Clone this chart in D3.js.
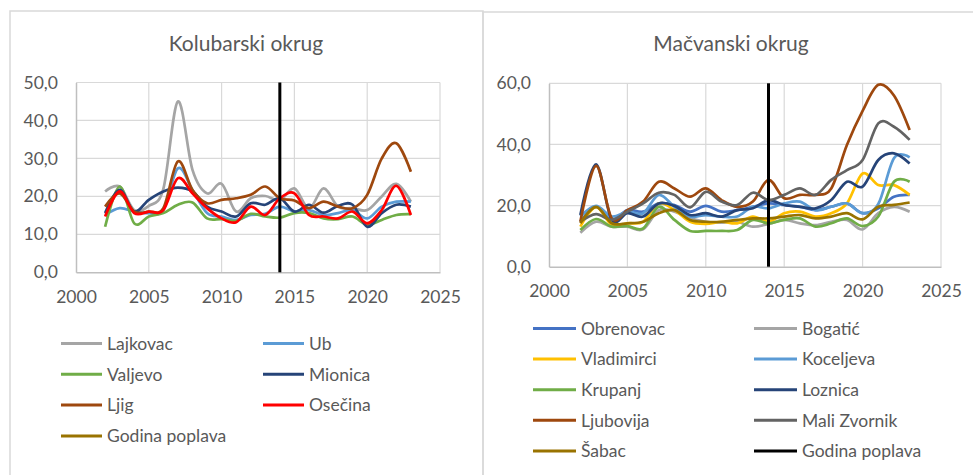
<!DOCTYPE html>
<html>
<head>
<meta charset="utf-8">
<script src="https://cdn.jsdelivr.net/npm/d3@7"></script>
<style>
  body { margin: 0; background: #fff; }
  svg { display: block; font-family: Lato, "Open Sans", sans-serif; }
</style>
</head>
<body>
<svg id="chart" width="973" height="475"></svg>
<script>
/* Data */
const years = [2002, 2003, 2004, 2005, 2006, 2007, 2008, 2009, 2010, 2011, 2012,
  2013, 2014, 2015, 2016, 2017, 2018, 2019, 2020, 2021, 2022, 2023];
const floodYear = 2014;
const xTicks = [2000, 2005, 2010, 2015, 2020, 2025];

// Kolubarski okrug
const kolNames = ['Lajkovac', 'Ub', 'Valjevo', 'Mionica', 'Ljig', 'Osečina'];
const lajkovac = [21.3, 22.6, 16.4, 17.5, 22.0, 45.0, 27.0, 20.8, 23.3, 16.0, 19.5, 20.1, 19.0, 22.1, 16.8, 22.1, 17.3, 16.9, 16.4, 20.0, 23.3, 18.6];
const ub = [15.1, 16.9, 16.0, 15.6, 16.4, 27.4, 21.7, 15.6, 14.7, 13.8, 15.1, 15.4, 17.3, 16.0, 16.4, 15.1, 15.6, 16.4, 14.2, 17.3, 18.6, 18.6];
const valjevo = [12.0, 22.6, 12.9, 14.7, 15.6, 17.8, 18.4, 14.2, 14.0, 13.5, 15.4, 14.7, 14.4, 15.6, 15.6, 14.2, 14.0, 14.7, 12.5, 13.8, 15.1, 15.3];
const mionica = [15.6, 21.7, 16.0, 19.1, 21.3, 22.3, 21.3, 17.3, 16.0, 14.7, 18.2, 17.8, 19.5, 16.0, 17.8, 15.7, 17.5, 17.8, 12.0, 15.6, 17.8, 17.3];
const ljig = [17.3, 20.8, 16.0, 16.0, 16.9, 29.2, 21.7, 18.2, 19.1, 19.5, 20.4, 22.6, 19.5, 18.9, 16.9, 18.6, 17.3, 16.9, 20.4, 30.0, 34.0, 26.5];
const osecina = [14.7, 21.3, 15.6, 16.0, 16.4, 24.8, 20.8, 16.9, 14.2, 13.2, 17.3, 15.1, 19.5, 20.8, 15.1, 14.7, 14.2, 16.0, 12.9, 16.4, 22.8, 15.1];
const kolColors = ['#a5a5a5', '#5b9bd5', '#70ad47', '#264478', '#9e480e', '#ff0000'];

// Mačvanski okrug
const macNames = ['Obrenovac', 'Bogatić', 'Vladimirci', 'Koceljeva', 'Krupanj', 'Loznica', 'Ljubovija', 'Mali Zvornik', 'Šabac'];
const obrenovac = [14.7, 19.6, 15.3, 18.5, 18.0, 20.7, 20.2, 18.0, 19.9, 18.0, 18.5, 19.6, 20.7, 20.2, 19.6, 18.5, 19.6, 20.7, 17.5, 19.1, 22.9, 23.5];
const bogatic = [11.1, 14.7, 13.1, 13.1, 12.2, 18.5, 18.0, 15.8, 14.7, 14.4, 14.7, 13.1, 14.0, 15.3, 14.2, 13.6, 14.7, 15.3, 12.2, 17.5, 19.6, 18.0];
const vladimirci = [13.1, 19.6, 13.6, 14.2, 14.7, 20.7, 18.5, 14.7, 14.0, 14.7, 14.2, 16.4, 14.7, 17.5, 18.0, 16.4, 17.5, 20.7, 30.5, 26.7, 26.7, 23.5];
const koceljeva = [16.4, 19.9, 16.4, 18.0, 17.5, 23.5, 19.6, 16.4, 16.9, 16.4, 16.4, 19.6, 19.1, 20.7, 21.3, 18.5, 19.6, 20.7, 17.5, 20.5, 35.5, 35.8];
const krupanj = [12.0, 15.6, 13.1, 13.3, 12.5, 19.6, 15.3, 11.7, 11.7, 11.7, 12.0, 15.3, 14.2, 15.3, 15.8, 13.1, 14.2, 15.8, 13.3, 16.4, 27.8, 27.8];
const loznica = [16.9, 33.5, 15.3, 17.5, 16.4, 20.7, 19.9, 16.9, 17.5, 16.4, 18.5, 19.1, 21.8, 20.2, 19.6, 19.1, 21.8, 27.8, 26.2, 34.9, 37.1, 33.8];
const ljubovija = [14.7, 33.0, 15.8, 18.5, 21.3, 27.8, 25.6, 22.9, 25.6, 21.8, 19.6, 21.3, 28.4, 22.4, 23.5, 23.5, 25.6, 39.8, 51.0, 59.5, 56.0, 44.7];
const maliZvornik = [14.7, 17.2, 15.3, 18.0, 20.7, 24.2, 23.5, 19.4, 24.5, 21.3, 20.2, 24.2, 21.8, 23.5, 25.6, 23.5, 28.4, 31.6, 34.9, 46.9, 45.8, 41.5];
const sabac = [14.2, 19.6, 14.2, 14.2, 14.7, 17.5, 18.5, 15.3, 14.7, 14.7, 15.3, 15.8, 15.8, 16.4, 16.9, 15.8, 16.4, 17.5, 15.5, 19.6, 20.2, 21.0];
const macColors = ['#4472c4', '#a5a5a5', '#ffc000', '#5b9bd5', '#70ad47', '#264478', '#9e480e', '#636363', '#997300'];

const floodLabel = 'Godina poplava';

/* SVG */
const svg = d3.select('#chart');
const TEXT = '#595959';
const GRID = '#d9d9d9';

function drawPanel(p) {
  const g = svg.append('g');

  // panel border
  g.append('rect')
    .attr('x', p.box[0]).attr('y', p.box[1])
    .attr('width', p.box[2]).attr('height', p.box[3])
    .attr('fill', 'none').attr('stroke', GRID).attr('stroke-width', 1.5);

  g.append('text')
    .attr('x', p.titleX).attr('y', 51)
    .attr('text-anchor', 'middle')
    .attr('fill', TEXT).attr('font-size', 21)
    .text(p.title);

  const x = d3.scaleLinear().domain([2000, 2025]).range([p.left, p.right]);
  const y = d3.scaleLinear().domain([0, p.yMax]).range([p.bottom, p.top]);

  // grid
  g.append('g').selectAll('line.h')
    .data(p.yTicks.slice(1))
    .enter().append('line')
    .attr('x1', p.left).attr('x2', p.right)
    .attr('y1', d => y(d)).attr('y2', d => y(d))
    .attr('stroke', GRID).attr('stroke-width', 1.2);
  g.append('g').selectAll('line.v')
    .data(xTicks.slice(1))
    .enter().append('line')
    .attr('x1', d => x(d)).attr('x2', d => x(d))
    .attr('y1', p.top).attr('y2', p.bottom)
    .attr('stroke', GRID).attr('stroke-width', 1.2);

  // axes
  const yAxis = g.append('g')
    .attr('transform', `translate(${p.left},0)`)
    .call(d3.axisLeft(y).tickValues(p.yTicks).tickSize(0).tickPadding(18)
      .tickFormat(d => d3.format('.1f')(d).replace('.', ',')));
  const xAxis = g.append('g')
    .attr('transform', `translate(0,${p.bottom})`)
    .call(d3.axisBottom(x).tickValues(xTicks).tickSize(0).tickPadding(18)
      .tickFormat(d3.format('d')));
  [xAxis, yAxis].forEach(a => {
    a.select('.domain').attr('stroke', '#bfbfbf').attr('stroke-width', 1.5);
    a.selectAll('text').attr('fill', TEXT).attr('font-size', 17.5)
      .attr('font-family', 'Lato, "Open Sans", sans-serif');
  });

  // series
  const line = d3.line()
    .x((d, i) => x(years[i]))
    .y(d => y(d))
    .curve(d3.curveCardinal);

  g.append('g').selectAll('path')
    .data(p.series)
    .enter().append('path')
    .attr('d', d => line(d))
    .attr('fill', 'none')
    .attr('stroke', (d, i) => p.colors[i])
    .attr('stroke-width', 2.7)
    .attr('stroke-linejoin', 'round');

  // flood year
  g.append('line')
    .attr('x1', x(floodYear)).attr('x2', x(floodYear))
    .attr('y1', y(p.yMax)).attr('y2', y(0))
    .attr('stroke', '#000').attr('stroke-width', 3);

  // legend
  const items = p.names.map((n, i) => ({ name: n, color: p.colors[i] }))
    .concat([{ name: floodLabel, color: p.floodColor }]);
  const leg = g.append('g').selectAll('g')
    .data(items)
    .enter().append('g')
    .attr('transform', (d, i) => `translate(${p.legX[i % 2]},${p.legY + Math.floor(i / 2) * p.legStep})`);
  leg.append('line')
    .attr('x1', 0).attr('x2', p.legLine)
    .attr('stroke', d => d.color).attr('stroke-width', 3);
  leg.append('text')
    .attr('x', p.legLine + 5).attr('dy', '0.36em')
    .attr('fill', TEXT).attr('font-size', 17.5)
    .text(d => d.name);
}

drawPanel({
  box: [10, 11, 473, 480],
  title: 'Kolubarski okrug', titleX: 246,
  left: 76, right: 440, top: 82.5, bottom: 272.3,
  yMax: 50, yTicks: [0, 10, 20, 30, 40, 50],
  names: kolNames, colors: kolColors,
  series: [lajkovac, ub, valjevo, mionica, ljig, osecina],
  floodColor: '#997300',
  legX: [61, 263], legY: 343.5, legStep: 30.8, legLine: 41
});

drawPanel({
  box: [483, 12, 500, 480],
  title: 'Mačvanski okrug', titleX: 731,
  left: 549, right: 941, top: 83.3, bottom: 266.7,
  yMax: 60, yTicks: [0, 20, 40, 60],
  names: macNames, colors: macColors,
  series: [obrenovac, bogatic, vladimirci, koceljeva, krupanj, loznica, ljubovija, maliZvornik, sabac],
  floodColor: '#000',
  legX: [533, 754], legY: 328.5, legStep: 30.6, legLine: 43
});
</script>
</body>
</html>
